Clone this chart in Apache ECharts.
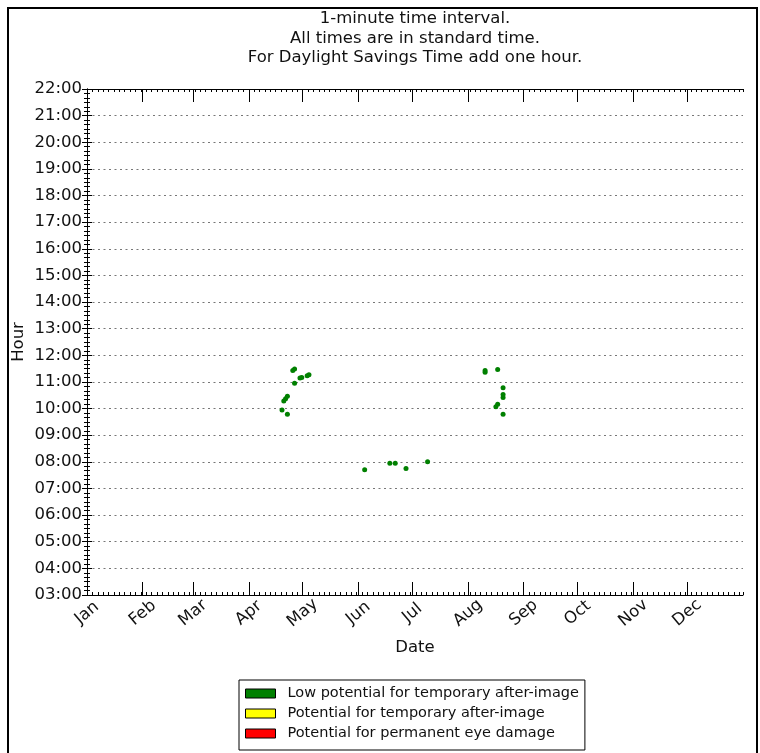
<!DOCTYPE html>
<html>
<head>
<meta charset="utf-8">
<script src="https://cdn.jsdelivr.net/npm/echarts@6/dist/echarts.min.js"></script>
<style>
html, body { margin: 0; padding: 0; background: #fff; }
#main { width: 760px; height: 753px; }
</style>
</head>
<body>
<div id="main"></div>
<script>
// tick labels
var monthLabels = ['Jan','Feb','Mar','Apr','May','Jun','Jul','Aug','Sep','Oct','Nov','Dec'];
var monthStarts = [0,31,59,90,120,151,181,212,243,273,304,334];
var hourMin = 3, hourMax = 22;

// low potential (green)
var lowDates = ['04-25','04-26','04-26','04-29','04-30','05-03','05-04','04-22','04-21','04-20','04-19','04-22',
                '06-04','06-18','06-21','06-27','07-09',
                '08-10','08-10','08-17','08-20','08-20','08-20','08-17','08-16','08-20'];
var lowTimes = ['11:26','11:29','10:57','11:09','11:10','11:14','11:16','10:28','10:22','10:17','09:57','09:47',
                '07:42','07:57','07:57','07:45','08:00',
                '11:26','11:22','11:28','10:47','10:32','10:25','10:10','10:04','09:47'];
// potential (yellow) and permanent damage (red): none
var midDates = [], midTimes = [];
var highDates = [], highTimes = [];

var seriesNames = ['Low potential for temporary after-image','Potential for temporary after-image','Potential for permanent eye damage'];
var seriesColors = ['#008000','#ffff00','#ff0000'];

function dayOfYear(md) {
    var p = md.split('-');
    return (Date.UTC(2013, +p[0] - 1, +p[1]) - Date.UTC(2013, 0, 1)) / 86400000 + 0.5;
}
function hourOf(t) {
    var p = t.split(':');
    return +p[0] + p[1] / 60;
}
function points(dates, times) {
    return dates.map(function (d, i) { return [dayOfYear(d), hourOf(times[i])]; });
}

var font = 'DejaVu Sans';
var black = '#000';

var myChart = echarts.init(document.getElementById('main'));
var option = {
    animation: false,
    grid: { left: 87, right: 17, top: 89, bottom: 158, containLabel: false, outerBoundsMode: 'none' },
    graphic: [
        { type: 'rect', silent: true, shape: { x: 8, y: 8, width: 749, height: 800 },
          style: { fill: 'none', stroke: black, lineWidth: 2 } },
        { type: 'text', silent: true, x: 415, y: 9,
          style: { text: '1-minute time interval.\nAll times are in standard time.\nFor Daylight Savings Time add one hour.',
                   textAlign: 'center', font: '16.5px "DejaVu Sans"', lineHeight: 19.5, fill: '#111' } }
    ],
    legend: {
        data: seriesNames,
        orient: 'vertical',
        left: 239, top: 680,
        padding: [5, 6, 8, 6],
        itemWidth: 30, itemHeight: 9, itemGap: 3,
        icon: 'rect',
        selectedMode: false,
        borderColor: black, borderWidth: 1, borderRadius: 0,
        itemStyle: { borderColor: black, borderWidth: 1, opacity: 1 },
        textStyle: { fontFamily: font, fontSize: 14.5, lineHeight: 17, color: '#111', padding: [0, 0, 0, 7] }
    },
    xAxis: [
        {
            type: 'value', position: 'bottom', min: 0, max: 365,
            name: 'Date', nameLocation: 'middle', nameGap: 44,
            nameTextStyle: { fontFamily: font, fontSize: 16.5, color: '#111' },
            axisLine: { show: true, lineStyle: { color: black, width: 1 } },
            axisTick: { show: true, inside: true, length: 13, customValues: monthStarts, lineStyle: { color: black } },
            axisLabel: {
                customValues: monthStarts,
                formatter: function (v) { return monthLabels[monthStarts.indexOf(v)]; },
                rotate: 40, align: 'center', verticalAlign: 'middle', margin: 18,
                fontFamily: font, fontSize: 16.5, color: '#111'
            },
            splitLine: { show: false }
        },
        {
            type: 'value', position: 'top', min: 0, max: 365,
            axisLine: { show: true, lineStyle: { color: black, width: 1 } },
            axisTick: { show: true, inside: true, length: 13, customValues: monthStarts, lineStyle: { color: black } },
            axisLabel: { show: false },
            splitLine: { show: false }
        },
        {
            type: 'value', position: 'bottom', min: 0, max: 365, interval: 3,
            axisLine: { show: false },
            axisTick: { show: true, inside: true, length: 3, lineStyle: { color: black } },
            axisLabel: { show: false },
            splitLine: { show: false }
        },
        {
            type: 'value', position: 'top', min: 0, max: 365, interval: 3,
            axisLine: { show: false },
            axisTick: { show: true, inside: true, length: 3, lineStyle: { color: black } },
            axisLabel: { show: false },
            splitLine: { show: false }
        }
    ],
    yAxis: [
        {
            type: 'value', position: 'left', min: hourMin, max: hourMax, interval: 1,
            name: 'Hour', nameLocation: 'middle', nameGap: 60, nameMoveOverlap: false,
            nameTextStyle: { fontFamily: font, fontSize: 16.5, color: '#111' },
            axisLine: { show: true, lineStyle: { color: black, width: 1 } },
            axisTick: { show: true, inside: true, length: 5, lineStyle: { color: black } },
            minorTick: { show: true, splitNumber: 6, length: 3, lineStyle: { color: black } },
            axisLabel: {
                formatter: function (v) { return (v < 10 ? '0' : '') + v + ':00'; },
                margin: 5, fontFamily: font, fontSize: 16.5, color: '#111'
            },
            splitLine: { show: true, lineStyle: { color: '#777', type: [2, 3.5], width: 1 } }
        },
        {
            type: 'value', position: 'right', min: hourMin, max: hourMax, interval: 1,
            axisLine: { show: true, lineStyle: { color: black, width: 1 } },
            axisTick: { show: true, inside: true, length: 5, lineStyle: { color: black } },
            minorTick: { show: true, splitNumber: 6, length: 3, lineStyle: { color: black } },
            axisLabel: { show: false },
            splitLine: { show: false }
        }
    ],
    series: [
        { name: seriesNames[0], type: 'scatter', data: points(lowDates, lowTimes), symbolSize: 5,
          itemStyle: { color: seriesColors[0], opacity: 1 } },
        { name: seriesNames[1], type: 'scatter', data: points(midDates, midTimes), symbolSize: 5,
          itemStyle: { color: seriesColors[1], opacity: 1 } },
        { name: seriesNames[2], type: 'scatter', data: points(highDates, highTimes), symbolSize: 5,
          itemStyle: { color: seriesColors[2], opacity: 1 } }
    ]
};
myChart.setOption(option);
</script>
</body>
</html>
